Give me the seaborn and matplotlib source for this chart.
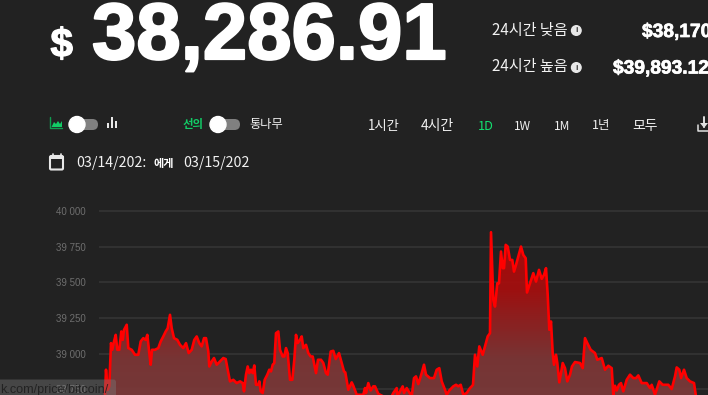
import numpy as np
import matplotlib
matplotlib.use("Agg")
import matplotlib.pyplot as plt
import matplotlib.patheffects as pe
import seaborn as sns
from matplotlib.colors import LinearSegmentedColormap
from matplotlib.patches import FancyBboxPatch, Circle, Rectangle
from matplotlib.ticker import FuncFormatter

sns.set_theme(style="dark")
KR = ['Noto Sans CJK KR', 'DejaVu Sans']
BG = '#222222'

price_ticks = [38750, 39000, 39250, 39500, 39750, 40000]
range_labels = ['1시간', '4시간', '1D', '1W', '1M', '1년', '모두']
big_price = '38,286.91'
low_label, low_value = '24시간 낮음', '$38,170'
high_label, high_value = '24시간 높음', '$39,893.12'

time_pos = [105,106,107.7,109.3,111,112.3,114,115.7,117.3,119.3,121.3,122.7,124,126.7,128.3,131.7,135,138.3,140.7,143.3,
145.7,147.3,149.3,150.7,152,155,158.3,160.7,163.3,165.7,167.7,170,171.7,174,177.3,180,183.3,186,188.7,191.7,
194.3,196.7,199.3,201.7,204,206,208.3,209.3,211.7,214,216.7,220,223.3,225.7,227.7,230,233.3,236.7,240,242.7,
244,246,247.7,249.3,251,252.7,254.3,256,258.3,259.3,260.7,262.7,264.7,267.3,269.3,271,272.7,274.3,276,278.3,
280,282.7,284.3,286,287.7,290,292.3,294.3,296,297.7,300,301.7,303.3,306,308.3,310.7,312.7,316,318,321,
323.3,326,327.7,330.7,333.3,335.7,339,341.7,344,345.3,348.3,351.7,353.3,356.7,363.3,365,366,368.3,370.7,373.3,
375,378.3,380,390,393.3,396.7,397.3,402.7,404,406.7,410,411.7,414,416,418.3,421.7,424,426,430,434,
436.7,439.3,441.7,445,446.7,449.3,453.3,456,458.3,460.7,463.3,466.7,470,471.7,473,475,477.3,479.3,482.7,485.7,
487.7,490,491,493.3,495,497.3,499,501,502.7,504,505.7,507.7,510,512.3,514,516,518.3,521,523.3,525.7,
527,530,531.7,533.3,536,539,541.7,544,546,547.7,549.3,551,552.7,554,556,557.3,559.3,561,562.7,565,
567.3,570,572,575,580,582.7,585,587.3,590.7,595,597.3,601.7,605,608.3,611.7,613.3,615,616.7,619,621,
623.3,626.7,630,633.3,636,638.3,641.7,646.7,650,651.7,655,659.3,662.7,668.3,671.7,675,676.7,679.3,681,684,
686.7,690,694,696]

prices = [38710,38886,38745,38769,39073,39026,39085,39131,39026,39026,39155,39096,39166,39202,39038,39026,38991,38991,39085,39108,
39096,39131,39003,38921,39026,39026,39038,39085,39120,39155,39178,39272,39178,39108,39096,39061,39038,39073,39003,39026,
39096,39120,39073,39050,39108,39108,39014,38909,38944,38968,38921,38944,38968,38961,38886,38804,38815,38792,38804,38792,
38734,38851,38909,38862,38886,38862,38916,38780,38780,38804,38734,38722,38815,38851,38886,38874,38921,38933,39143,39155,
39026,38979,38979,39038,39003,38815,38815,38956,39131,39073,39096,39120,39038,39061,39003,38979,38979,38862,38956,38956,
38933,38862,38851,39014,39019,38961,39003,38933,38874,38867,38745,38797,38773,38710,38710,38757,38722,38792,38740,38769,
38769,38717,38710,38675,38722,38757,38698,38769,38722,38757,38717,38698,38827,38839,38785,38862,38921,38851,38827,38827,
38886,38897,38804,38745,38710,38740,38769,38780,38769,38780,38710,38722,38757,38769,38780,38991,38909,39050,38991,39068,
39120,39143,39853,39377,39330,39494,39494,39717,39600,39600,39764,39752,39658,39658,39576,39623,39682,39752,39693,39670,
39429,39494,39529,39565,39506,39588,39525,39553,39600,39412,39167,39225,39003,38921,38991,38933,38797,38862,38933,38897,
38804,38851,38909,38940,38933,38897,39108,39073,39026,39003,38956,38968,38886,38914,38897,38710,38773,38740,38780,38792,
38734,38815,38851,38827,38827,38846,38792,38792,38757,38780,38710,38804,38780,38780,38750,38839,38902,38886,38827,38886,
38827,38804,38792,38698]

fig = plt.figure(figsize=(7.08, 3.95), dpi=100, facecolor=BG)

# ---- chart axes: bottom at image edge, gridline 40000 at y=211.3, 35.55 px per 250
top_px = 205.0
ax = fig.add_axes([99/708, 0, 609/708, (395-top_px)/395])
ax.set_facecolor(BG)
px_per_unit = 35.55/250
ymax = 40000 + (211.3-top_px)/px_per_unit
ymin = 40000 - (395-211.3)/px_per_unit
ax.set_xlim(99, 708)
ax.set_ylim(ymin, ymax)

ax.set_yticks(price_ticks)
ax.yaxis.set_major_formatter(FuncFormatter(lambda v, _: f"{int(v):,}".replace(',', ' ')))
ax.tick_params(axis='y', length=0, pad=9.5, labelsize=7, labelcolor='#6e6e6e')
for lab in ax.get_yticklabels():
    lab.set_fontfamily('Liberation Sans')
ax.set_xticks([])
ax.grid(True, axis='y', color='#363636', lw=1.1)
ax.set_axisbelow(True)
for s in ax.spines.values():
    s.set_visible(False)

fill = ax.fill_between(time_pos, prices, ymin, color='none', lw=0)
cmap = LinearSegmentedColormap.from_list('f', [(0.0, '#7a3a3a'), (0.22, '#7c3535'), (0.42, '#8f2222'),
                                              (0.62, '#a31010'), (1.0, '#b00808')])
grad = np.linspace(1, 0, 256).reshape(-1, 1)
im = ax.imshow(grad, extent=(99, 708, ymin, 39900), aspect='auto', cmap=cmap, zorder=2, alpha=0.96)
im.set_clip_path(fill.get_paths()[0], transform=ax.transData)
ax.set_xlim(99, 708)
ax.set_ylim(ymin, ymax)

sns.lineplot(x=time_pos, y=prices, ax=ax, color='#ff0000', lw=1.9, zorder=3, errorbar=None,
             estimator=None, sort=False)
ax.set_xlabel('')
ax.set_ylabel('')

# ---- UI overlay in pixel coordinates
ui = fig.add_axes([0, 0, 1, 1], zorder=5)
ui.set_xlim(0, 708)
ui.set_ylim(395, 0)
ui.axis('off')
ui.patch.set_alpha(0)

W = '#ffffff'
G = '#12cc66'

def bold(x, y, s, size, stroke):
    t = ui.text(x, y, s, family='Liberation Sans', weight='bold', fontsize=size, color=W, va='baseline')
    t.set_path_effects([pe.withStroke(linewidth=stroke, foreground=W)])
    return t

bold(50.5, 56.5, '$', 29, 0.9)
bold(92, 59, big_price, 57.4, 1.6)

def label(x, y, s, size=8.4, color='#f2f2f2', ha='left', **kw):
    ui.text(x, y, s, family=KR, fontsize=size, color=color, ha=ha, va='center', **kw)

label(492, 30.5, low_label, size=10.9, weight='light')
label(492, 67, high_label, size=10.9, weight='light')
for yy in (30.5, 67.5):
    ui.add_patch(Circle((576.3, yy), 4.8, color='#e8e8e8'))
    ui.text(576.3, yy, 'i', family='DejaVu Sans', weight='bold', fontsize=5, color='#444444', ha='center', va='center')
bold(642, 37, low_value, 13.8, 0.5)
bold(613, 73.5, high_value, 13.8, 0.5)

# chart type toggle + icons
def toggle(x0, x1, y, knob_x):
    ui.add_patch(FancyBboxPatch((x0, y-5.5), x1-x0, 11, boxstyle='round,pad=0,rounding_size=5.5',
                                fc='#808080', ec='none', lw=0))
    ui.add_patch(Circle((knob_x, y), 8, color='#ffffff', zorder=6))

toggle(72, 98, 124.5, 77)
toggle(215, 240, 124.5, 218)

# area icon
ui.plot([50, 50, 62], [117, 128, 128], color='#0f9d50', lw=1)
ui.fill([51.5, 54, 56, 58, 60, 62, 62, 51.5], [127, 122, 124, 121, 124, 121, 127, 127], color=G, lw=0)
# bars icon
for x, y0, y1 in [(108, 123, 128), (112, 117, 128), (116, 121, 128)]:
    ui.add_patch(Rectangle((x-1, y0), 2.2, y1-y0, color='#e8e8e8', lw=0))

label(182.5, 124.5, '선의', size=8.2, color=G, weight='bold')
label(249.5, 124.5, '통나무', size=8.8)

# range selector
range_sizes = [9.6, 10, 9.2, 8.6, 8.6, 9, 10]
for x, s, c, fs in zip([368, 421, 478, 514, 554, 592, 632.5], range_labels,
                       ['#f0f0f0', '#f0f0f0', '#14e070', '#f0f0f0', '#f0f0f0', '#f0f0f0', '#f0f0f0'], range_sizes):
    label(x, 126, s, size=fs, color=c, weight='light')

# download icon
ui.plot([698, 698, 708], [125, 131, 131], color='#e0e0e0', lw=1.1)
ui.plot([704, 704], [117, 127], color='#e0e0e0', lw=1.4)
ui.fill([700, 708, 704], [123, 123, 128], color='#e0e0e0', lw=0)

# calendar
ui.add_patch(FancyBboxPatch((50, 156), 13, 13.5, boxstyle='round,pad=0,rounding_size=1.2',
                            fc='none', ec='#e8e8e8', lw=1.5))
ui.add_patch(Rectangle((50, 155.5), 13.5, 3, color='#e8e8e8', lw=0))
ui.plot([53, 53], [153.5, 156], color='#e8e8e8', lw=1.2)
ui.plot([60.5, 60.5], [153.5, 156], color='#e8e8e8', lw=1.2)

label(76.5, 163, '03/14/202:', size=10.2, weight='light')
label(153.5, 163, '에게', size=8, weight='bold', color=W)
label(183, 163, '03/15/202', size=10.2, weight='light')

# browser status bar
ui.add_patch(FancyBboxPatch((-5, 379.5), 121, 22, boxstyle='round,pad=0,rounding_size=2.5',
                            fc='#7a7a7a', ec='none', alpha=0.42, zorder=7))
ui.text(0, 389.5, 'k.com/price/bitcoin/', family='Liberation Sans', fontsize=9.1, color='#1a1a1a',
        va='center', alpha=0.8, zorder=8)

fig.savefig('out.png', dpi=100, facecolor=BG)
